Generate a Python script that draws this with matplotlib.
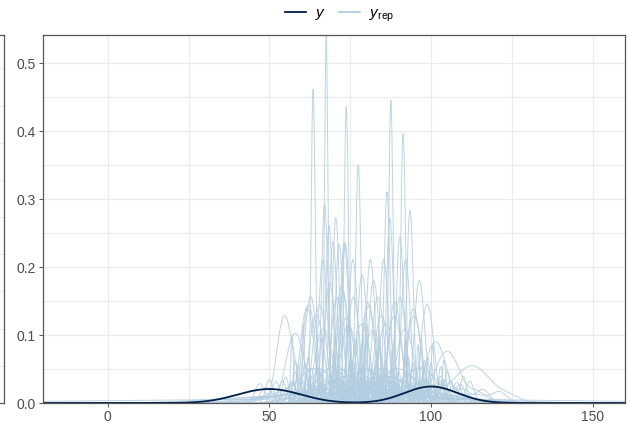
import matplotlib
matplotlib.use("Agg")
import matplotlib.pyplot as plt
import numpy as np
from matplotlib.lines import Line2D
from matplotlib.ticker import MultipleLocator

# Observed outcome, stored as a frequency table
Y_VALUES = [38, 40, 42, 44, 46, 48, 50, 52, 54, 56, 58, 60, 62, 96, 98, 100, 102, 104]
Y_COUNTS = [2, 3, 6, 8, 11, 13, 14, 13, 11, 8, 6, 3, 2, 9, 24, 34, 24, 9]

# Posterior predictive draws, one list per replicated dataset
YREP_DRAWS = [
    # tight draws
    [60.5, 67.05, 67.3, 67.5, 67.6, 67.75, 67.9, 68.25, 74.0, 80.0],
    [57.0, 63.0, 63.2, 63.4, 63.55, 63.75, 63.95, 64.3, 70.5, 77.0],
    [66.0, 73.1, 73.4, 73.6, 73.8, 74.0, 74.2, 74.5, 79.0, 84.0],
    [70.0, 76.6, 77.0, 77.3, 77.5, 77.7, 78.0, 78.4, 83.0, 88.0],
    [80.0, 87.0, 87.2, 87.4, 87.6, 87.8, 88.0, 88.3, 92.0, 97.0],
    [84.0, 90.7, 90.95, 91.2, 91.4, 91.6, 91.85, 92.2, 96.0, 100.5],
    [62.0, 85.5, 85.9, 86.2, 86.4, 86.7, 87.0, 87.5, 93.0, 99.0],
    [58.0, 66.2, 66.6, 66.9, 67.1, 67.4, 67.8, 68.3, 75.0, 86.0],
    [83.0, 92.4, 92.9, 93.2, 93.5, 93.8, 94.1, 94.6, 98.0, 104.0],
    [75.0, 86.3, 86.7, 87.0, 87.3, 87.6, 88.0, 88.5, 94.5, 100.0],
    [62.0, 70.4, 70.9, 71.3, 71.6, 72.0, 72.4, 73.0, 78.0, 85.0],
    [64.5, 72.3, 72.8, 73.2, 73.5, 73.9, 74.3, 74.9, 81.0, 88.0],
    [59.0, 67.4, 67.9, 68.2, 68.5, 68.8, 69.2, 69.8, 75.5, 83.0],
    [79.0, 89.3, 89.8, 90.1, 90.4, 90.8, 91.2, 91.8, 97.0, 103.0],
    [61.0, 69.6, 70.0, 70.3, 70.6, 70.9, 71.3, 71.8, 76.0, 92.0],
    [65.0, 72.1, 72.5, 72.9, 73.2, 73.6, 74.0, 74.6, 79.0, 86.0],
    [63.0, 68.6, 69.0, 69.4, 69.7, 70.1, 70.5, 71.1, 78.0, 84.0],
    [71.0, 80.0, 80.5, 80.9, 81.3, 81.7, 82.2, 82.8, 87.0, 92.0],
    [82.0, 90.9, 91.4, 91.8, 92.2, 92.6, 93.1, 93.7, 98.0, 105.0],
    # moderate draws
    [61.5, 69.0, 69.8, 70.4, 70.9, 71.5, 72.1, 72.9, 77.0, 84.5],
    [64.0, 71.0, 71.7, 72.3, 72.8, 73.4, 74.0, 74.6, 81.0, 95.0],
    [55.0, 67.2, 67.8, 68.3, 68.7, 69.2, 69.8, 70.6, 76.5, 82.0],
    [52.0, 59.6, 60.4, 61.1, 61.7, 62.3, 63.0, 63.8, 70.0, 78.0],
    [75.0, 88.6, 89.3, 89.9, 90.4, 91.0, 91.6, 92.4, 97.5, 104.0],
    [85.0, 96.8, 97.6, 98.3, 98.8, 99.4, 100.1, 100.9, 106.0, 112.0],
    [68.0, 78.6, 79.4, 80.0, 80.5, 81.1, 81.8, 82.7, 88.0, 95.5],
    [72.0, 81.8, 82.5, 83.1, 83.6, 84.2, 84.8, 85.6, 91.0, 99.0],
    [60.0, 74.2, 74.9, 75.5, 76.0, 76.6, 77.2, 78.0, 84.0, 92.0],
    [57.0, 63.6, 64.4, 65.0, 65.6, 66.2, 66.9, 67.7, 73.0, 80.0],
    [70.0, 83.5, 84.5, 85.3, 86.0, 86.8, 87.6, 88.6, 94.0, 101.0],
    [64.0, 76.0, 77.0, 77.8, 78.5, 79.3, 80.1, 81.1, 87.0, 93.0],
    [81.0, 92.5, 93.3, 94.0, 94.6, 95.2, 95.9, 96.8, 102.0, 108.0],
    [63.0, 70.8, 71.3, 71.7, 72.4, 73.0, 73.5, 73.9, 80.0, 87.0],
    [50.0, 61.0, 61.7, 62.3, 62.8, 63.3, 64.0, 64.8, 70.0, 76.0],
    [76.0, 87.0, 87.7, 88.3, 88.8, 89.4, 90.1, 91.0, 96.0, 103.0],
    [63.0, 72.0, 73.0, 73.8, 74.5, 75.3, 76.1, 77.2, 84.0, 91.0],
    [70.0, 79.3, 80.3, 81.2, 82.0, 82.8, 83.7, 84.8, 90.0, 98.0],
    [56.0, 64.2, 65.2, 66.0, 66.8, 67.6, 68.5, 69.6, 75.0, 83.0],
    [80.0, 89.4, 90.4, 91.2, 92.0, 92.8, 93.7, 94.8, 100.0, 107.0],
    [58.0, 65.3, 65.8, 66.2, 66.6, 67.0, 67.5, 68.1, 72.0, 79.0],
    [66.0, 74.6, 75.1, 75.5, 75.9, 76.3, 76.8, 77.4, 82.5, 90.0],
    [73.0, 80.8, 81.4, 81.9, 82.3, 82.8, 83.4, 84.1, 89.0, 94.0],
    [77.0, 84.1, 84.6, 85.0, 85.4, 85.8, 86.3, 86.9, 92.0, 98.0],
    [68.0, 78.9, 79.6, 80.2, 80.8, 81.4, 82.1, 83.0, 88.5, 96.0],
    [62.0, 71.7, 72.5, 73.2, 73.9, 74.6, 75.4, 76.3, 82.0, 89.0],
    [86.0, 94.9, 95.5, 96.0, 96.4, 96.9, 97.5, 98.2, 103.0, 110.0],
    [57.0, 62.4, 63.2, 63.9, 64.5, 65.2, 66.0, 66.9, 71.0, 77.0],
    [70.0, 77.3, 77.8, 78.3, 78.7, 79.2, 79.7, 80.4, 86.0, 93.0],
    [74.0, 82.6, 83.4, 84.1, 84.7, 85.4, 86.2, 87.2, 93.0, 100.0],
    [78.0, 86.6, 87.4, 88.1, 88.7, 89.4, 90.2, 91.2, 97.0, 104.0],
    [54.0, 60.2, 61.0, 61.6, 62.2, 62.8, 63.5, 64.3, 69.0, 75.0],
    [84.0, 92.7, 93.5, 94.2, 94.8, 95.5, 96.3, 97.3, 103.0, 109.0],
    # broad draws
    [47.0, 52.0, 53.2, 54.0, 54.6, 55.2, 55.9, 57.0, 58.3, 66.0],
    [49.0, 55.0, 56.3, 57.2, 58.0, 58.8, 59.7, 61.0, 66.0, 72.0],
    [88.0, 98.0, 99.4, 100.5, 101.4, 102.3, 103.3, 104.8, 110.0, 116.0],
    [92.0, 101.0, 102.6, 104.0, 105.0, 106.0, 107.3, 109.0, 114.0, 121.0],
    [96.0, 103.0, 107.0, 110.0, 111.5, 112.5, 114.0, 116.5, 118.0, 124.0],
    [50.0, 57.0, 60.0, 62.5, 64.0, 65.5, 67.0, 69.5, 74.0, 82.0],
    [60.0, 67.0, 70.0, 73.0, 75.0, 77.0, 79.0, 82.0, 88.0, 96.0],
    [68.0, 77.0, 80.0, 83.0, 85.0, 87.0, 89.5, 92.0, 99.0, 106.0],
    [56.0, 64.0, 66.5, 68.5, 70.0, 71.5, 73.0, 75.5, 80.0, 90.0],
    [74.0, 83.0, 86.0, 88.0, 89.5, 91.0, 93.0, 95.5, 101.0, 110.0],
    [82.0, 89.0, 92.0, 94.5, 96.0, 97.5, 99.0, 101.5, 107.0, 115.0],
    [64.0, 73.0, 76.0, 78.5, 80.0, 81.5, 83.0, 86.0, 92.0, 101.0],
    [58.0, 66.0, 69.0, 71.0, 72.5, 74.0, 76.0, 79.0, 85.0, 93.0],
    [70.0, 78.0, 81.5, 84.0, 86.0, 88.0, 90.5, 94.0, 100.0, 108.0],
    # diffuse draws
    [40.0, 52.0, 60.0, 66.0, 72.0, 78.0, 84.0, 90.0, 98.0, 110.0],
    [45.0, 58.0, 64.0, 69.0, 74.0, 79.0, 83.0, 88.0, 95.0, 105.0],
    [50.0, 60.0, 65.0, 70.0, 73.0, 76.0, 80.0, 86.0, 92.0, 100.0],
    [-20.0, 10.0, 35.0, 55.0, 68.0, 78.0, 90.0, 105.0, 130.0, 160.0],
    [55.0, 62.0, 66.0, 70.0, 74.0, 78.0, 82.0, 87.0, 94.0, 108.0],
    [35.0, 48.0, 56.0, 63.0, 70.0, 77.0, 85.0, 93.0, 102.0, 118.0],
    [60.0, 65.0, 68.0, 71.0, 74.0, 77.0, 80.0, 84.0, 89.0, 97.0],
    [52.0, 58.0, 63.0, 68.0, 72.0, 76.0, 81.0, 88.0, 96.0, 112.0],
]

Y_COLOR = "#011f4b"
YREP_COLOR = "#b3cde0"
GRID_COLOR = "#ebebeb"
FRAME_COLOR = "#555555"
TEXT_COLOR = "#4d4d4d"

plt.rcParams["font.family"] = ["Liberation Sans", "DejaVu Sans"]
plt.rcParams["mathtext.fontset"] = "custom"
plt.rcParams["mathtext.rm"] = "Liberation Sans"
plt.rcParams["mathtext.it"] = "Liberation Sans:italic"


def bw_nrd0(x):
    """Silverman's rule of thumb, as in R's bw.nrd0."""
    hi = np.std(x, ddof=1)
    q25, q75 = np.percentile(x, [25, 75])
    lo = min(hi, (q75 - q25) / 1.34)
    return 0.9 * lo * len(x) ** -0.2


def gaussian_kde(x, grid):
    x = np.asarray(x, dtype=float)
    bw = bw_nrd0(x)
    z = (grid[:, None] - x[None, :]) / bw
    return np.exp(-0.5 * z ** 2).sum(axis=1) / (len(x) * bw * np.sqrt(2 * np.pi))


y_obs = np.repeat(np.asarray(Y_VALUES, dtype=float), Y_COUNTS)
all_values = np.concatenate([y_obs] + [np.asarray(d, dtype=float) for d in YREP_DRAWS])
x_lo, x_hi = all_values.min(), all_values.max()
grid = np.linspace(x_lo, x_hi, 2400)

rep_curves = [gaussian_kde(d, grid) for d in YREP_DRAWS]
y_curve = gaussian_kde(y_obs, grid)
y_top = max(c.max() for c in rep_curves + [y_curve])

fig = plt.figure(figsize=(6.29, 4.23), dpi=100)
panel = [43 / 629, 20 / 423, 582 / 629, 368 / 423]

# neighbouring panel, only its right edge falls inside the canvas
ax_left = fig.add_axes([-0.3, panel[1], 0.3 + 3.5 / 629, panel[3]])
ax_left.set_ylim(0, 9.9)
ax_left.set_yticks(np.arange(0, 10))
ax_left.set_xticks([])
ax_left.tick_params(length=0, labelleft=False)
ax_left.grid(axis="y", color=GRID_COLOR, linewidth=0.8)
for spine in ax_left.spines.values():
    spine.set_color(FRAME_COLOR)
    spine.set_linewidth(0.9)

ax = fig.add_axes(panel)
for curve in rep_curves:
    ax.plot(grid, curve, color=YREP_COLOR, linewidth=0.7, alpha=0.85)
ax.plot(grid, y_curve, color=Y_COLOR, linewidth=1.3)

ax.set_xlim(x_lo, x_hi)
ax.set_ylim(0, y_top)
ax.xaxis.set_major_locator(MultipleLocator(50))
ax.xaxis.set_minor_locator(MultipleLocator(25))
ax.yaxis.set_major_locator(MultipleLocator(0.1))
ax.yaxis.set_minor_locator(MultipleLocator(0.05))
ax.yaxis.set_major_formatter(lambda v, pos: f"{v:.1f}")
ax.grid(which="both", color=GRID_COLOR, linewidth=0.8)
ax.set_axisbelow(True)
ax.tick_params(which="major", length=3, width=0.7, color=FRAME_COLOR,
               labelcolor=TEXT_COLOR, labelsize=10, pad=2)
ax.tick_params(which="minor", length=0)
for spine in ax.spines.values():
    spine.set_color(FRAME_COLOR)
    spine.set_linewidth(0.9)

handles = [
    Line2D([], [], color=Y_COLOR, linewidth=1.3),
    Line2D([], [], color=YREP_COLOR, linewidth=1.3),
]
fig.legend(handles, [r"$y$", r"$y_{\mathrm{rep}}$"], loc="center",
           bbox_to_anchor=(0.54, 0.965), ncol=2, frameon=False, fontsize=11,
           handlelength=1.4, handletextpad=0.6, columnspacing=0.8)

fig.savefig("out.png", dpi=100)
